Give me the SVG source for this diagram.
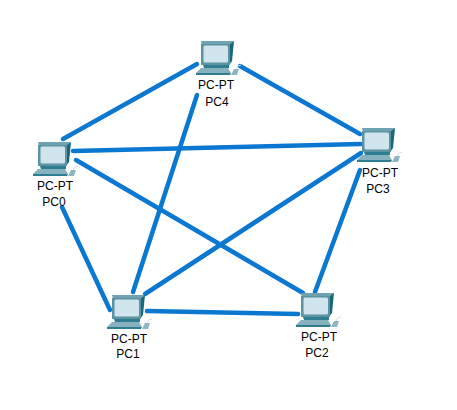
<svg xmlns="http://www.w3.org/2000/svg" width="457" height="410" viewBox="0 0 457 410">
<style>
text{font-family:"Liberation Sans",Arial,sans-serif;font-size:12px;fill:#000;text-anchor:middle}
.l{fill:none;stroke:#0a78d0;stroke-width:4.5;stroke-linecap:round}
</style>
<defs>
<g id="pc">
<polygon points="5,0 38,0 34,4 6,4" fill="#6fa3b1"/>
<polygon points="33,4 38,0 36,20 33,24" fill="#1a6678"/>
<rect x="5" y="3" width="29" height="21" fill="#5b93a3"/>
<rect x="7.5" y="4.5" width="24.5" height="17" rx="1.5" fill="#cfe4ec"/>
<polygon points="7,24 33,24 33,27 8,27" fill="#2f7d90"/>
<polygon points="5,27 32,27 35,32 0,32" fill="#86b1be"/>
<polygon points="0,32 35,32 34,34 0,34" fill="#2f7d90"/>
<polygon points="38,28 43,28 41,34 35,34" fill="#8fb5c1"/>
<path d="M40,28 Q41,24 45,24" fill="none" stroke="#d5dde0" stroke-width="1"/>
</g>
</defs>
<rect width="457" height="410" fill="#fff"/>
<g id="connectors">
<line class="l" x1="197" y1="64" x2="63" y2="139"/>
<line class="l" x1="240" y1="66" x2="360" y2="134"/>
<line class="l" x1="197" y1="95" x2="133" y2="292"/>
<line class="l" x1="73" y1="151" x2="361" y2="144"/>
<line class="l" x1="76" y1="160" x2="303" y2="293"/>
<line class="l" x1="62" y1="207" x2="110" y2="310"/>
<line class="l" x1="145" y1="294" x2="361" y2="153"/>
<line class="l" x1="147" y1="311" x2="298" y2="314"/>
<line class="l" x1="360" y1="170" x2="315" y2="292"/>
</g>
<g id="PC4"><use href="#pc" x="196" y="41"/><text x="216" y="89">PC-PT</text><text x="217" y="106">PC4</text></g>
<g id="PC0"><use href="#pc" x="33" y="142"/><text x="55" y="190">PC-PT</text><text x="54" y="206">PC0</text></g>
<g id="PC1"><use href="#pc" x="107" y="295"/><text x="129" y="343">PC-PT</text><text x="128" y="358">PC1</text></g>
<g id="PC2"><use href="#pc" x="296" y="293"/><text x="319" y="341">PC-PT</text><text x="317" y="357">PC2</text></g>
<g id="PC3"><use href="#pc" x="357" y="128"/><text x="380" y="177">PC-PT</text><text x="378" y="193">PC3</text></g>
</svg>
